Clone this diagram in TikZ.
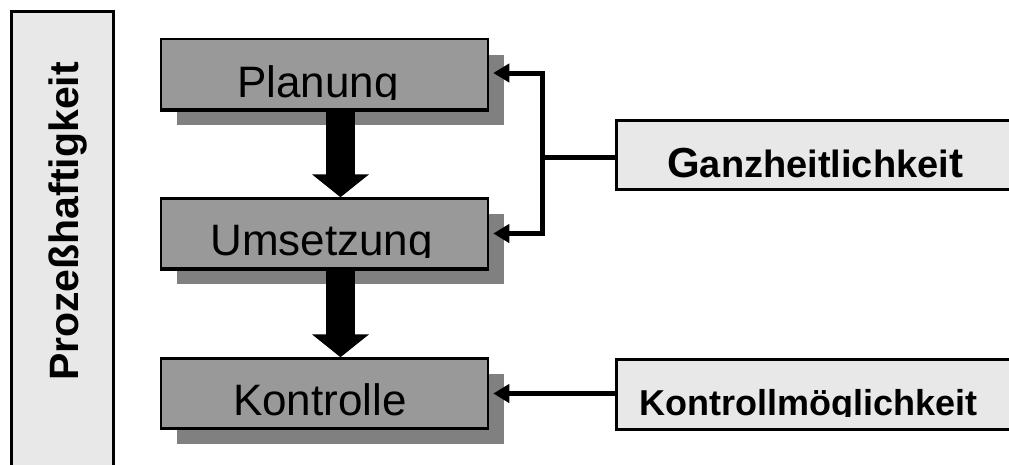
\documentclass[tikz,border=0pt]{standalone}
\usepackage{fontspec}
\setmainfont{Liberation Sans}
\usetikzlibrary{arrows.meta}
\definecolor{boxgray}{HTML}{999999}
\definecolor{shadowgray}{HTML}{808080}
\definecolor{lightgray}{HTML}{E8E8E8}
\tikzset{
  stepbox/.style={draw=black, line width=2.5pt, fill=boxgray, minimum width=327pt, minimum height=70pt, inner sep=0pt},
  shadowbox/.style={fill=shadowgray, minimum width=327pt, minimum height=70pt, inner sep=0pt},
  sidebox/.style={draw=black, line width=2.5pt, fill=lightgray, inner sep=0pt},
  steptext/.style={inner sep=0pt, anchor=base, font=\fontsize{44}{44}\selectfont},
  bigarrow/.style={line width=29pt, -{Triangle[length=23pt,width=56pt]}},
  conn/.style={line width=5pt},
  connarrow/.style={line width=5pt, -{Triangle[length=16pt,width=18pt]}},
}
\begin{document}
\begin{tikzpicture}[x=1pt,y=-1pt]
\useasboundingbox (0,0) rectangle (1009,464);
\clip (0,0) rectangle (1009,464);
\fill[white] (0,0) rectangle (1009,464);
% left side box
\node[sidebox, minimum width=102pt, minimum height=470pt, anchor=north west] (proz) at (10,10) {};
\node[rotate=90, anchor=base, inner sep=0pt, font=\bfseries\fontsize{41}{41}\selectfont] (prozt) at (78,221.5) {Prozeßhaftigkeit};
% shadows
\node[shadowbox] (plans) at (340.5,89.5) {};
\node[shadowbox] (umss) at (340.5,248.5) {};
\node[shadowbox] (kons) at (340.5,408.5) {};
% boxes
\node[stepbox] (plan) at (324.5,74) {};
\node[stepbox] (ums) at (324.5,233.5) {};
\node[stepbox] (kon) at (324.5,393.5) {};
% big arrows
\draw[bigarrow] ([xshift=16pt,yshift=1.25pt]plan.south) -- ([xshift=16pt]ums.north);
\draw[bigarrow] ([xshift=16pt,yshift=1.25pt]ums.south) -- ([xshift=16pt]kon.north);
% redraw box borders over the arrow stems
\draw[line width=2.5pt] (plan.south west) -- (plan.south east);
\draw[line width=2.5pt] (ums.south west) -- (ums.south east);
% texts (clipped at the bottom as in the picture)
\begin{scope}
\clip (161,39) rectangle (488,99);
\node[steptext] (plant) at (318,97) {Planung};
\end{scope}
\begin{scope}
\clip (161,199) rectangle (488,257);
\node[steptext] (umst) at (321.5,255) {Umsetzung};
\end{scope}
\node[steptext] (kont) at (320,415) {Kontrolle};
% right boxes
\node[sidebox, minimum width=410pt, minimum height=69pt, anchor=north west] (ganz) at (615,119) {};
\node[inner sep=0pt, anchor=base west, font=\bfseries\fontsize{38}{38}\selectfont] (ganzt) at (667,177) {{\fontsize{42}{42}\selectfont G}anzheitlichkei{\fontsize{42}{42}\selectfont t}};
\node[sidebox, minimum width=410pt, minimum height=70pt, anchor=north west] (kmog) at (615,358) {};
\begin{scope}
\clip (615,358) rectangle (1009,416.5);
\node[inner sep=0pt, anchor=base west, font=\bfseries\fontsize{36}{36}\selectfont] (kmogt) at (639,415) {Kontrollmöglichkeit};
\end{scope}
% connectors
\coordinate (junc) at (542,157);
\draw[conn] (ganz.west |- junc) -- (junc);
\draw[connarrow] ([yshift=-1pt]junc) |- ([xshift=4pt,yshift=1pt]plan.east);
\draw[connarrow] ([yshift=1pt]junc) |- ([xshift=4pt]ums.east);
\draw[connarrow] (kmog.west |- kon.east) -- ([xshift=4pt]kon.east);
\end{tikzpicture}
\end{document}
